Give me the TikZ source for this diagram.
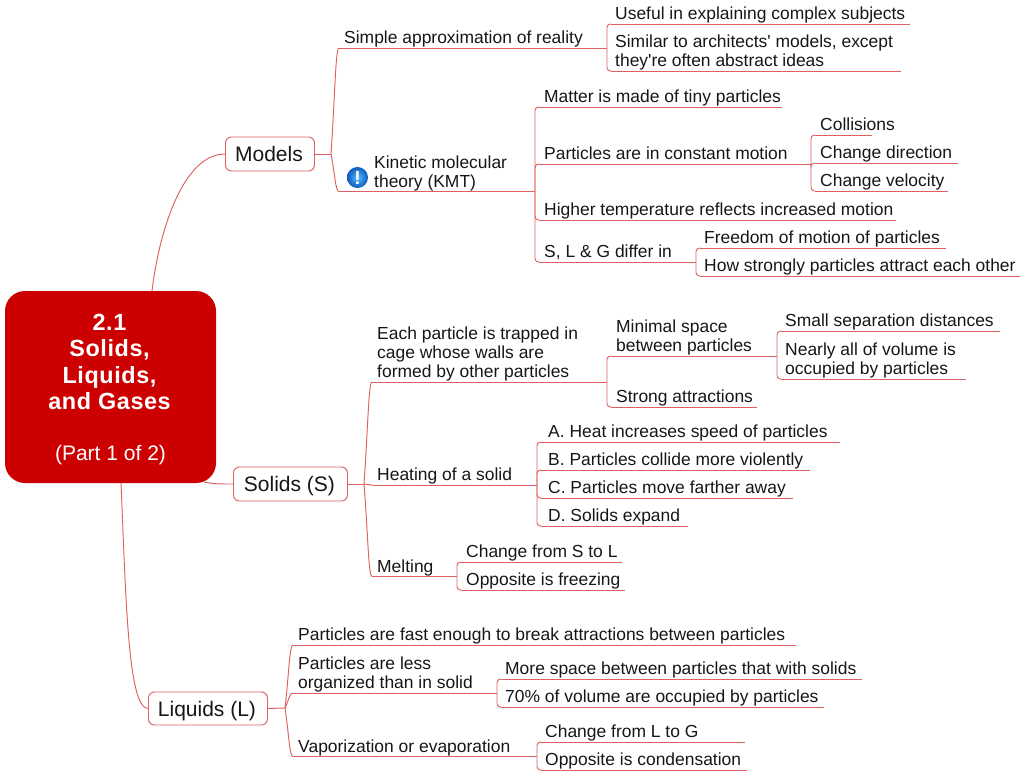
\documentclass[tikz,border=0pt]{standalone}
\usepackage{fontspec}
\setmainfont{Liberation Sans}[Ligatures=TeXOff]
\newfontface\rootbold{Liberation Sans Bold}[LetterSpace=2.5,Ligatures=TeXOff]
\usetikzlibrary{calc,shadings}
\definecolor{linkc}{RGB}{222,96,96}
\definecolor{rootc}{RGB}{204,0,0}
\definecolor{inkc}{RGB}{22,22,22}
\definecolor{iconin}{RGB}{90,190,250}
\definecolor{iconout}{RGB}{10,90,190}
\newcommand{\rb}{\fontsize{23.4}{26.6}\selectfont\rootbold}
\tikzset{
  link/.style={draw=linkc,line width=0.95pt},
  topic/.style={anchor=south west,inner sep=0pt,align=left,text=inkc,
    font=\fontsize{17.45}{19}\selectfont,execute at end node={\rule[-4pt]{0pt}{10pt}}},
  mainbox/.style={draw=linkc,line width=0.95pt,fill=white,rounded corners=6pt,anchor=west,
    inner sep=0pt,text=inkc,font=\fontsize{21}{24}\selectfont,text height=15pt,text depth=0pt,
    execute at begin node={\hspace*{-2pt}}},
  rootbox/.style={fill=rootc,rounded corners=20pt,inner sep=0pt,minimum width=211pt,minimum height=192pt},
  roottext/.style={inner sep=0pt,align=center,text=white,font=\fontsize{21}{26.6}\selectfont},
  iconball/.style={circle,minimum size=21pt,inner sep=0pt,shading=radial,inner color=iconin,outer color=iconout,
    text=white,font=\bfseries\fontsize{19}{19}\selectfont}
}
% name, line-left x, line y, line-right x, text x, text
\newcommand{\topic}[6]{%
  \coordinate (#1-l) at (#2,#3);
  \coordinate (#1-r) at (#4,#3);
  \node[topic] (#1) at (#5,#3) {#6};
  \draw[link] (#1-l) -- (#1-r);
}
% first-level sweeping branch
\newcommand{\sweep}[2]{%
  \draw[link] (#1) .. controls ($(#1)!0.55!(#1 |- #2-l)+(4,0)$) and ($(#1 |- #2-l)+(4.5,0)$) .. (#2-l);
}
% bracket branch
\newcommand{\bracket}[2]{%
  \draw[link,rounded corners=3.5pt] (#1) |- (#2-l);
}
\begin{document}
\begin{tikzpicture}[x=1pt,y=-1pt]
\useasboundingbox (0,0) rectangle (1024,774);
% root
\node[rootbox] (root) at (110.5,387) {};
\node[roottext] (roottitle) at (109.5,362) {\rb 2.1\\\rb Solids,\\\rb Liquids,\\\rb and Gases};
\node[roottext] (rootpart) at (110.5,455) {(Part 1 of 2)};
\coordinate (rootA) at (152,291);
\coordinate (rootB) at (204,482);
\coordinate (rootC) at (121,483);
% main boxes
\node[mainbox,minimum width=89pt,minimum height=34pt] (models) at (225,154) {Models};
\node[mainbox,minimum width=114pt,minimum height=34pt] (solids) at (233,484) {Solids (S)};
\node[mainbox,minimum width=119pt,minimum height=33pt] (liquids) at (148,708.5) {Liquids (L)};
\draw[link] (rootA) .. controls (160,225) and (185,154) .. (models.west);
\draw[link] (rootB) .. controls (212,484) and (222,484) .. (solids.west);
\draw[link] (rootC) .. controls (126,600) and (128,708) .. (liquids.west);
% junctions
\coordinate (jm) at (331,154);
\coordinate (js) at (364,484);
\coordinate (jl) at (285,708);
\draw[link] (models.east) -- (jm);
\draw[link] (solids.east) -- (js);
\draw[link] (liquids.east) -- (jl);
% Models
\topic{simple}{339}{48}{607}{344}{Simple approximation of reality}
\topic{kmt}{339}{191.5}{535}{374}{Kinetic molecular\\theory (KMT)}
\sweep{jm}{simple}
\sweep{jm}{kmt}
\node[iconball] (icon) at (357.5,177.5) {!};
\topic{useful}{611}{24}{910}{615}{Useful in explaining complex subjects}
\topic{similar}{611}{71}{901}{615}{Similar to architects' models, except\\they're often abstract ideas}
\bracket{simple-r}{useful}
\bracket{simple-r}{similar}
\topic{matter}{539}{107}{782}{544}{Matter is made of tiny particles}
\topic{motion}{539}{164}{811}{544}{Particles are in constant motion}
\topic{higher}{539}{220}{896}{544}{Higher temperature reflects increased motion}
\topic{differ}{539}{262}{696}{544}{S, L \& G differ in}
\bracket{kmt-r}{matter}
\bracket{kmt-r}{motion}
\bracket{kmt-r}{higher}
\bracket{kmt-r}{differ}
\topic{coll}{815}{135}{872}{820}{Collisions}
\topic{cdir}{815}{163}{958}{820}{Change direction}
\topic{cvel}{815}{191}{948}{820}{Change velocity}
\bracket{motion-r}{coll}
\bracket{motion-r}{cdir}
\bracket{motion-r}{cvel}
\topic{free}{700}{248}{946}{704}{Freedom of motion of particles}
\topic{strong}{700}{276}{1020}{704}{How strongly particles attract each other}
\bracket{differ-r}{free}
\bracket{differ-r}{strong}
% Solids
\topic{cage}{372}{382}{607}{377}{Each particle is trapped in\\cage whose walls are\\formed by other particles}
\topic{heat}{372}{485}{537}{377}{Heating of a solid}
\topic{melt}{372}{576.5}{457}{377}{Melting}
\sweep{js}{cage}
\sweep{js}{heat}
\sweep{js}{melt}
\topic{minimal}{611}{356}{777}{616}{Minimal space\\between particles}
\topic{attr}{611}{407}{757}{616}{Strong attractions}
\bracket{cage-r}{minimal}
\bracket{cage-r}{attr}
\topic{small}{781}{331}{1000}{785}{Small separation distances}
\topic{nearly}{781}{379}{966}{785}{Nearly all of volume is\\occupied by particles}
\bracket{minimal-r}{small}
\bracket{minimal-r}{nearly}
\topic{a}{541}{442}{840}{548}{A. Heat increases speed of particles}
\topic{b}{541}{470}{810}{548}{B. Particles collide more violently}
\topic{c}{541}{498}{793}{548}{C. Particles move farther away}
\topic{d}{541}{526}{688}{548}{D. Solids expand}
\bracket{heat-r}{a}
\bracket{heat-r}{b}
\bracket{heat-r}{c}
\bracket{heat-r}{d}
\topic{stol}{461}{562}{622}{466}{Change from S to L}
\topic{freez}{461}{590}{625}{466}{Opposite is freezing}
\bracket{melt-r}{stol}
\bracket{melt-r}{freez}
% Liquids
\topic{fast}{293}{645}{796}{298}{Particles are fast enough to break attractions between particles}
\topic{less}{293}{693}{497}{298}{Particles are less\\organized than in solid}
\topic{vap}{293}{756.5}{537}{298}{Vaporization or evaporation}
\sweep{jl}{fast}
\sweep{jl}{less}
\sweep{jl}{vap}
\topic{more}{501}{679}{862}{505}{More space between particles that with solids}
\topic{seventy}{501}{707}{824}{505}{70\% of volume are occupied by particles}
\bracket{less-r}{more}
\bracket{less-r}{seventy}
\topic{ltog}{541}{742}{745}{545}{Change from L to G}
\topic{cond}{541}{770}{747}{545}{Opposite is condensation}
\bracket{vap-r}{ltog}
\bracket{vap-r}{cond}
\end{tikzpicture}
\end{document}
